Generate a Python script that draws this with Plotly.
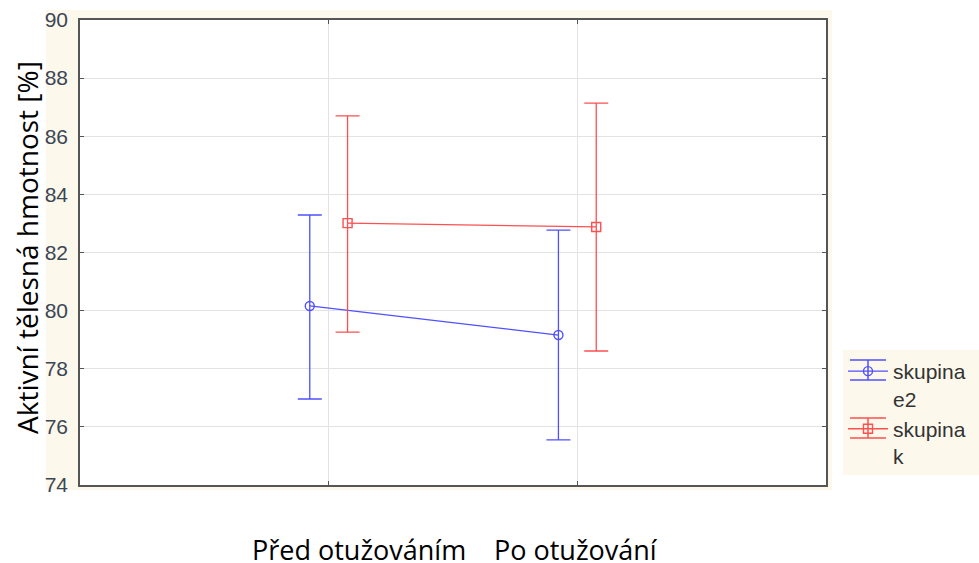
import plotly.graph_objects as go

# Data
categories = ["Před otužováním", "Po otužování"]
cat_pos = [1, 2]
groups = ["skupina<br>e2", "skupina<br>k"]
e2_mean = [80.16, 79.16]
e2_upper = [83.29, 82.77]
e2_lower = [76.96, 75.55]
k_mean = [83.01, 82.88]
k_upper = [86.70, 87.14]
k_lower = [79.26, 78.61]
y_ticks = [74, 76, 78, 80, 82, 84, 86, 88, 90]

offset = 0.076
blue = "#5050ff"
red = "#ff5050"
cream = "#fdf8ec"

W, H = 979, 563
ML, MR, MT, MB = 80, 153, 20, 78
PW, PH = W - ML - MR, H - MT - MB


def px(x):
    return (x - ML) / PW


def py(y):
    return (H - MB - y) / PH


fig = go.Figure()


def add_series(name, mean, upper, lower, dx, color, symbol):
    fig.add_trace(go.Scatter(
        x=[p + dx for p in cat_pos], y=mean, name=name,
        mode="lines+markers",
        line=dict(color=color, width=1.3),
        marker=dict(symbol=symbol, size=9, color=color, line=dict(color=color, width=1.4)),
        error_y=dict(type="data", symmetric=False,
                     array=[u - m for u, m in zip(upper, mean)],
                     arrayminus=[m - l for m, l in zip(mean, lower)],
                     color=color, thickness=1.3, width=12),
    ))


add_series(groups[0], e2_mean, e2_upper, e2_lower, -offset, blue, "circle-open")
add_series(groups[1], k_mean, k_upper, k_lower, offset, red, "square-open")

# backgrounds
fig.add_shape(type="rect", xref="paper", yref="paper", x0=px(46), x1=px(832), y0=py(490), y1=py(10),
              fillcolor=cream, line=dict(width=0), layer="below")
fig.add_shape(type="rect", xref="paper", yref="paper", x0=0, x1=1, y0=0, y1=1,
              fillcolor="white", line=dict(width=0), layer="below")
# legend box
fig.add_shape(type="rect", xref="paper", yref="paper", x0=px(843), x1=px(979), y0=py(475), y1=py(350),
              fillcolor=cream, line=dict(width=0), layer="below")
# legend error-bar glyph caps
for yc, col in [(370, blue), (428, red)]:
    for dy in (-10, 10):
        fig.add_shape(type="line", xref="paper", yref="paper", x0=px(850), x1=px(886),
                      y0=py(yc + dy), y1=py(yc + dy), line=dict(color=col, width=1.5), layer="above")
    fig.add_shape(type="line", xref="paper", yref="paper", x0=px(868), x1=px(868),
                  y0=py(yc - 10), y1=py(yc + 10), line=dict(color=col, width=1.5), layer="above")

txt_font = dict(family="Open Sans, Calibri, sans-serif", size=27, color="#000000")
fig.add_annotation(text=categories[0], xref="paper", yref="paper", x=px(468), y=py(549),
                   xanchor="right", yanchor="middle", showarrow=False, font=txt_font)
fig.add_annotation(text=categories[1], xref="paper", yref="paper", x=px(492), y=py(549),
                   xanchor="left", yanchor="middle", showarrow=False, font=txt_font)
fig.add_annotation(text="Aktivní tělesná hmotnost [%]", xref="paper", yref="paper",
                   x=px(27), y=py(248), textangle=-90,
                   xanchor="center", yanchor="middle", showarrow=False,
                   font=dict(family="Open Sans, Calibri, sans-serif", size=28, color="#000000"))

axis_common = dict(showline=True, linecolor="#555555", linewidth=1.5, mirror="ticks",
                   ticks="inside", ticklen=4, tickcolor="#555555", tickwidth=1,
                   showgrid=True, gridcolor="#e3e3e3", gridwidth=1, zeroline=False)

fig.update_layout(
    width=W, height=H,
    margin=dict(l=ML, r=MR, t=MT, b=MB, autoexpand=False),
    paper_bgcolor="white", plot_bgcolor="rgba(0,0,0,0)",
    font=dict(family="Liberation Sans, Arial, sans-serif", size=17, color="#3b4656"),
    xaxis=dict(range=[0, 3], tickvals=cat_pos, showticklabels=False, **axis_common),
    yaxis=dict(range=[74, 90], tickvals=y_ticks, ticklabelstandoff=6,
               tickfont=dict(family="Liberation Sans, Arial, sans-serif", size=21, color="#3b4656"),
               **axis_common),
    legend=dict(x=px(843), y=py(351), xanchor="left", yanchor="top", valign="top",
                bgcolor="rgba(0,0,0,0)",
                font=dict(family="Liberation Sans, Arial, sans-serif", size=21, color="#333333"),
                tracegroupgap=0, itemwidth=40),
    showlegend=True,
)

fig.write_html("out.html", config={"displayModeBar": False},
               post_script="document.body.style.margin='0';")
